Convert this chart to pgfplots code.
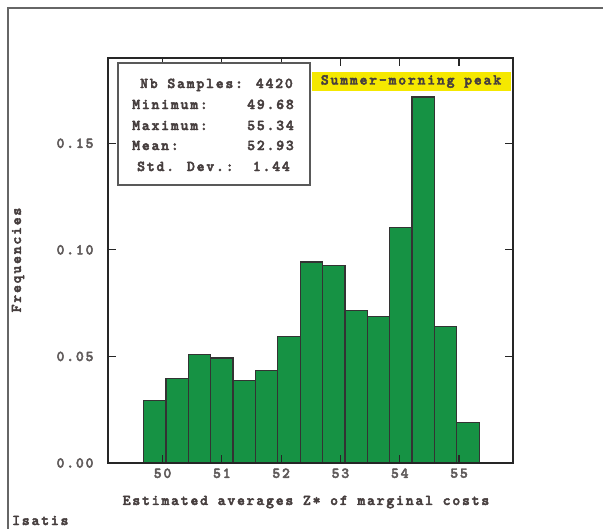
\documentclass[border=0pt]{standalone}
\usepackage{fontspec}
\setmainfont{Liberation Mono}
\newfontfamily\cour[LetterSpace=12, FakeBold=3]{lmmonolt10-bold.otf}
\usepackage{pgfplots}
\pgfplotsset{compat=1.18}
\definecolor{bargreen}{RGB}{22,146,68}
\definecolor{txt}{RGB}{70,62,62}
\definecolor{ticktxt}{RGB}{95,90,90}
\definecolor{hl}{RGB}{245,232,0}
\newcommand{\f}{\cour\fontsize{15bp}{18bp}\selectfont}
\begin{document}
\begin{tikzpicture}
\useasboundingbox (0,0) rectangle (603bp,-529bp);
\draw[black!60, line width=1.5bp] (8bp,-529bp) -- (8bp,-8bp) -- (603bp,-8bp);
\begin{axis}[
  at={(108bp,-463bp)}, anchor=south west,
  width=405bp, height=405bp, scale only axis,
  xmin=49.08, xmax=55.91, ymin=0, ymax=0.19,
  xtick={50,51,52,53,54,55}, ytick={0,0.05,0.1,0.15},
  tick align=inside, major tick length=8bp,
  axis on top,
  axis line style={line width=1.6bp, black!85},
  tick style={line width=1.2bp, black!85},
  tick label style={font=\f, text=ticktxt},
  xticklabel style={yshift=-2bp},
  yticklabel style={xshift=-11bp},
  /pgf/number format/assume math mode=true,
  yticklabel style={/pgf/number format/.cd,fixed,fixed zerofill,precision=2},
]
\addplot[ybar interval, fill=bargreen, draw=black!80, line width=1.2bp] coordinates {
(49.680,0.0295) (50.057,0.0397) (50.435,0.0510) (50.812,0.0493) (51.189,0.0386)
(51.567,0.0433) (51.944,0.0592) (52.321,0.0943) (52.699,0.0928) (53.076,0.0714)
(53.453,0.0689) (53.831,0.1103) (54.208,0.1717) (54.585,0.0639) (54.963,0.0189)
(55.340,0.0189)};
\end{axis}
% stats box
\draw[black!65, line width=1.6bp, fill=white] (118bp,-63bp) rectangle (310bp,-185bp);
\begin{scope}[every node/.style={inner sep=0pt, font=\f, text=txt}]
\node[anchor=base east] at (293bp,-88bp) {Nb Samples: 4420};
\node[anchor=base west] at (132bp,-109bp) {Minimum:};
\node[anchor=base east] at (294bp,-109bp) {49.68};
\node[anchor=base west] at (132bp,-130bp) {Maximum:};
\node[anchor=base east] at (294bp,-130bp) {55.34};
\node[anchor=base west] at (132bp,-150bp) {Mean:};
\node[anchor=base east] at (294bp,-150bp) {52.93};
\node[anchor=base west] at (137bp,-171bp) {Std. Dev.:};
\node[anchor=base east] at (290bp,-171bp) {1.44};
\fill[hl] (312bp,-72bp) rectangle (511bp,-91bp);
\node at (411bp,-81.5bp) {Summer-morning peak};
\node[rotate=90] at (18bp,-260bp) {Frequencies};
\node at (306bp,-502bp) {Estimated averages Z* of marginal costs};
\node[anchor=base west] at (12bp,-525bp) {Isatis};
\end{scope}
\end{tikzpicture}
\end{document}
